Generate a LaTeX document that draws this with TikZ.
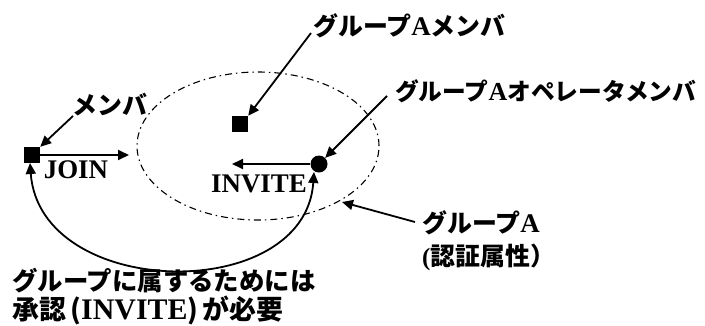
\documentclass[tikz,border=0pt]{standalone}
\usepackage{fontspec}
\setmainfont{Liberation Serif}
\newfontfamily\jpfont{Noto Sans CJK JP}
\usetikzlibrary{arrows.meta,shapes.geometric}
\newcommand\J[1]{{\jpfont\bfseries #1}}
\newcommand\Lt[1]{{\fontsize{27}{30}\selectfont #1}}
\tikzset{
  arr/.style={line width=1.8bp,-{Triangle[length=11bp,width=10bp]}},
  lbl/.style={font=\fontsize{25}{33}\selectfont\bfseries,inner sep=0pt},
  lat/.style={font=\fontsize{27}{30}\selectfont\bfseries,inner sep=0pt},
  sq/.style={fill=black,minimum size=16bp,inner sep=0pt},
  dot/.style={circle,fill=black,minimum size=17bp,inner sep=0pt}
}
\begin{document}
\begin{tikzpicture}[x=1bp,y=-1bp]
\useasboundingbox (0,0) rectangle (705,325);
% group ellipse
\node[draw,ellipse,minimum width=242bp,minimum height=148bp,line width=1.1bp,dash pattern=on 7bp off 4bp on 1.5bp off 4bp,inner sep=0pt] (grp) at (258,146) {};
% members
\node[sq] (m) at (32,155) {};
\node[sq] (ma) at (240,124) {};
\node[dot] (op) at (319,164) {};
% arrow endpoints
\coordinate (joinend) at (129,155);
\coordinate (invend) at (232,164);
\draw[arr] (m.east) -- (joinend);
\draw[arr] (op.west) -- (invend);
\node[lat] (join) at (76,170) {JOIN};
\node[lat] (inv) at (259,184) {INVITE};
% curved two-headed arrow
\coordinate (cs) at (30,163);
\coordinate (ce) at (314,172);
\draw[line width=1.8bp,{Triangle[length=11bp,width=10bp]}-{Triangle[length=11bp,width=10bp]}] (cs) .. controls (40,300) and (305,305) .. (ce);
% labels
\node[lbl] (lm) at (110,105) {\J{メンバ}};
\coordinate (lmstart) at (73,116);
\draw[arr] (lmstart) -- (m.north east);
\node[lbl,anchor=west] (lma) at (313,26) {\J{グループ}\Lt{A}\J{メンバ}};
\coordinate (lmastart) at (311,33);
\draw[arr] (lmastart) -- (ma.north east);
\node[lbl,anchor=west,font=\fontsize{23.8}{30}\selectfont\bfseries] (lop) at (395,91) {\J{グループ}{\fontsize{26}{30}\selectfont A}\J{オペレータメンバ}};
\coordinate (lopstart) at (387,96);
\draw[arr] (lopstart) -- (op.north east);
\node[lbl,anchor=west,align=left] (lg) at (422,241) {\J{グループ}\Lt{A}\\(\J{認証属性）}};
\coordinate (lgstart) at (415,222);
\coordinate (lgend) at (342,202);
\draw[arr] (lgstart) -- (lgend);
\node[lbl,anchor=north west,align=left,font=\fontsize{25.5}{29}\selectfont\bfseries] (note) at (12,268) {\J{グループに属するためには}\\{\fontsize{27}{29}\selectfont\J{承認}\,\J{(}{\fontsize{30}{29}\selectfont INVITE}\J{)}\,\J{が必要}}};
\end{tikzpicture}
\end{document}
